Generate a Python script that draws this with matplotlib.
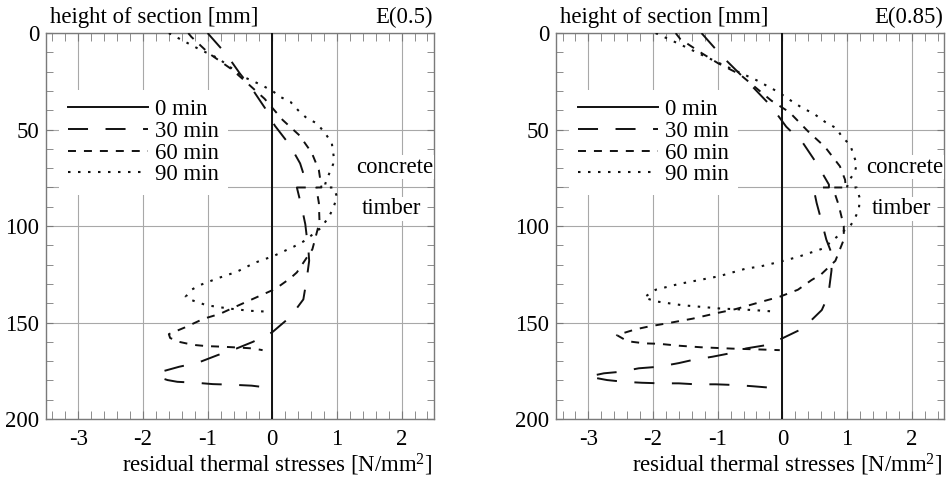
"""Residual thermal stresses over the height of a timber-concrete composite section."""

import matplotlib.pyplot as plt
import matplotlib.transforms as mtransforms
from matplotlib.ticker import MultipleLocator

plt.rcParams["font.family"] = ["Liberation Serif", "DejaVu Serif"]
plt.rcParams["mathtext.fontset"] = "custom"
plt.rcParams["mathtext.rm"] = "Liberation Serif"
plt.rcParams["mathtext.it"] = "Liberation Serif:italic"
plt.rcParams["axes.unicode_minus"] = False

FONT_SIZE = 16.4
INTERFACE_DEPTH = 80

# 0 min: stress-free section
t0_depth = [0, 200]
t0_stress = [0, 0]

# E(0.5)
e05_30_depth = [0, 11, 21, 28.5, 39, 48, 58, 67.5, 80, 80, 91, 99, 113, 118, 128, 138,
                147, 155, 160, 163.4, 166.8, 170.8, 172.9, 175.5, 178, 179.8, 180.7,
                181.2, 181.9, 182.2, 182.7, 184]
e05_30_stress = [-1.00, -0.71, -0.50, -0.32, -0.11, 0.04, 0.27, 0.43, 0.55, 0.38, 0.46,
                 0.51, 0.56, 0.57, 0.53, 0.48, 0.28, 0.00, -0.30, -0.55, -0.84, -1.15,
                 -1.44, -1.72, -1.78, -1.62, -1.47, -1.18, -0.92, -0.63, -0.32, 0.00]

e05_60_depth = [0, 2, 10.5, 18.7, 24, 34, 45, 53, 62, 71, 80, 80, 88, 98, 112, 124, 127,
                132.5, 137, 141.5, 145.5, 148, 152.5, 156, 158, 160, 160.8, 161.7, 162.2,
                162.5, 163, 163.4, 164.3]
e05_60_stress = [-1.30, -1.25, -0.98, -0.63, -0.45, -0.12, 0.16, 0.42, 0.61, 0.72, 0.76,
                 0.68, 0.72, 0.73, 0.62, 0.38, 0.28, 0.05, -0.25, -0.55, -0.81, -1.06,
                 -1.35, -1.60, -1.58, -1.44, -1.33, -1.18, -1.02, -0.78, -0.50, -0.30,
                 -0.15]

e05_90_depth = [0, 8, 13, 22.6, 27, 30.4, 33, 35.6, 40, 44, 46.8, 52, 57, 64, 68, 73.6,
                78, 80, 80, 84.8, 90, 95, 101, 104.7, 108, 110.7, 115.5, 119, 123.7, 127,
                130.6, 133, 136.6, 138, 141, 142.7, 143.9, 144.4]
e05_90_stress = [-1.60, -1.15, -0.84, -0.45, -0.16, 0.02, 0.12, 0.28, 0.40, 0.53, 0.69,
                 0.82, 0.92, 0.95, 0.94, 0.87, 0.82, 0.82, 0.95, 1.00, 0.95, 0.88, 0.75,
                 0.61, 0.48, 0.33, 0.02, -0.27, -0.55, -0.84, -1.12, -1.25, -1.34, -1.28,
                 -1.02, -0.68, -0.35, -0.04]

# E(0.85)
e085_30_depth = [0, 11.4, 24.4, 27.8, 38, 48.5, 57, 67.5, 78.5, 80, 80, 88, 98, 107, 114,
                 123, 136, 143.5, 153, 158, 161.7, 163.4, 166, 167.7, 169.4, 171, 172.9,
                 173.7, 175.5, 176.3, 178, 179.8, 180.7, 181.2, 181.5, 181.5, 182, 182,
                 182.4, 183, 183.8]
e085_30_stress = [-1.25, -0.95, -0.56, -0.46, -0.17, 0.06, 0.32, 0.53, 0.72, 0.72, 0.48,
                  0.53, 0.61, 0.68, 0.76, 0.76, 0.71, 0.61, 0.32, 0.01, -0.25, -0.56,
                  -0.82, -1.08, -1.39, -1.60, -1.91, -2.22, -2.50, -2.76, -3.00, -2.71,
                  -2.45, -2.17, -1.88, -1.60, -1.34, -1.03, -0.71, -0.46, -0.17]

e085_60_depth = [0, 3, 9.7, 15.7, 21.3, 35, 41, 51, 59, 69, 76, 80, 80, 83, 89, 100, 107,
                 118, 125, 128, 133, 136.6, 139, 143, 145, 148, 150.5, 152, 153.5, 156.5,
                 159, 160, 160.8, 161, 162, 162.8, 163.5, 164, 164.3]
e085_60_stress = [-1.65, -1.58, -1.28, -0.99, -0.66, -0.17, 0.11, 0.40, 0.66, 0.89, 0.97,
                  0.98, 0.80, 0.81, 0.87, 0.95, 0.95, 0.82, 0.60, 0.45, 0.24, -0.04, -0.30,
                  -0.72, -1.00, -1.39, -1.80, -2.06, -2.27, -2.56, -2.43, -2.32, -2.12,
                  -1.91, -1.60, -1.26, -0.78, -0.30, -0.04]

e085_90_depth = [0, 6, 12, 18, 24.4, 30.4, 35.6, 39, 41.6, 46, 49.4, 53.7, 58, 65, 68, 72,
                 77, 80, 80, 86, 91.7, 96, 100, 102, 111.6, 116, 118.5, 121, 122, 126, 130,
                 133, 137, 139, 141, 142.7, 143.5, 144.3]
e085_90_stress = [-1.96, -1.57, -1.20, -0.82, -0.40, -0.07, 0.16, 0.32, 0.48, 0.66, 0.84,
                  0.92, 1.05, 1.12, 1.15, 1.12, 1.02, 1.00, 1.15, 1.20, 1.18, 1.12, 1.05,
                  0.97, 0.63, 0.24, -0.04, -0.35, -0.56, -0.98, -1.60, -1.96, -2.14, -1.96,
                  -1.55, -0.97, -0.46, -0.12]

series_labels = ["0 min", "30 min", "60 min", "90 min"]
panel_titles = ["E(0.5)", "E(0.85)"]
x_ticks = [-3, -2, -1, 0, 1, 2]
y_ticks = [0, 50, 100, 150, 200]

# dash lengths are in multiples of the line width
LINE_STYLES = [
    dict(linestyle="-", linewidth=1.4),
    dict(linestyle=(0, (10.3, 9.0)), linewidth=1.4),
    dict(linestyle=(0, (4.1, 4.1)), linewidth=1.4),
    dict(linestyle=(0, (1.2, 3.6)), linewidth=1.5),
]
GRID_COLOR = "#a8a8a8"
FRAME_COLOR = "#7a7a7a"


def _draw_panel(ax, curves, title):
    lines = []
    for (stress, depth), label, style in zip(curves, series_labels, LINE_STYLES):
        (line,) = ax.plot(stress, depth, color="#111111", label=label, zorder=3, **style)
        lines.append(line)

    ax.set_xlim(-3.5, 2.5)
    ax.set_ylim(200, 0)
    ax.set_xticks(x_ticks)
    ax.set_yticks(y_ticks)
    ax.set_xticklabels([str(t) for t in x_ticks])
    ax.xaxis.set_minor_locator(MultipleLocator(0.2))
    ax.yaxis.set_minor_locator(MultipleLocator(10))
    ax.tick_params(which="both", direction="in", top=True, right=True,
                   color=FRAME_COLOR, labelsize=FONT_SIZE)
    ax.tick_params(axis="x", which="both", length=5.5, pad=7)
    ax.tick_params(axis="y", which="both", length=5, pad=5)
    ax.grid(True, which="major", color=GRID_COLOR, linewidth=0.8, zorder=0)
    ax.axhline(INTERFACE_DEPTH, color=GRID_COLOR, linewidth=0.8, zorder=0)
    for spine in ax.spines.values():
        spine.set_color(FRAME_COLOR)
        spine.set_linewidth(1.0)

    ax.text(0.01, 1.025, "height of section [mm]", transform=ax.transAxes,
            ha="left", va="baseline", fontsize=FONT_SIZE)
    ax.text(0.997, 1.025, title, transform=ax.transAxes,
            ha="right", va="baseline", fontsize=FONT_SIZE)
    ax.text(0.997, -0.137, "residual thermal stresses [N/mm$^2$]", transform=ax.transAxes,
            ha="right", va="baseline", fontsize=FONT_SIZE)

    side = mtransforms.blended_transform_factory(ax.transAxes, ax.transData)
    label_box = dict(facecolor="white", edgecolor="none", pad=1)
    ax.text(0.997, 72.4, "concrete", transform=side, ha="right", va="baseline",
            fontsize=FONT_SIZE, bbox=label_box, zorder=4)
    ax.text(0.968, 93.9, "timber", transform=side, ha="right", va="baseline",
            fontsize=FONT_SIZE, bbox=label_box, zorder=4)

    legend = ax.legend(handles=lines, loc="upper left", bbox_to_anchor=(0.033, 0.852),
                       borderaxespad=0, borderpad=0.4, handlelength=3.5,
                       handletextpad=0.32, labelspacing=0.03, fontsize=FONT_SIZE,
                       frameon=True, fancybox=False, facecolor="white",
                       edgecolor="none", framealpha=1)
    legend.set_zorder(5)


fig = plt.figure(figsize=(9.5, 4.8), dpi=100)
ax_left = fig.add_axes([0.0484, 0.127, 0.4084, 0.804])
ax_right = fig.add_axes([0.5853, 0.127, 0.4084, 0.804])

_draw_panel(ax_left, [(t0_stress, t0_depth), (e05_30_stress, e05_30_depth),
                      (e05_60_stress, e05_60_depth), (e05_90_stress, e05_90_depth)],
            panel_titles[0])
_draw_panel(ax_right, [(t0_stress, t0_depth), (e085_30_stress, e085_30_depth),
                       (e085_60_stress, e085_60_depth), (e085_90_stress, e085_90_depth)],
            panel_titles[1])

fig.savefig("out.png", dpi=100)
plt.close(fig)
